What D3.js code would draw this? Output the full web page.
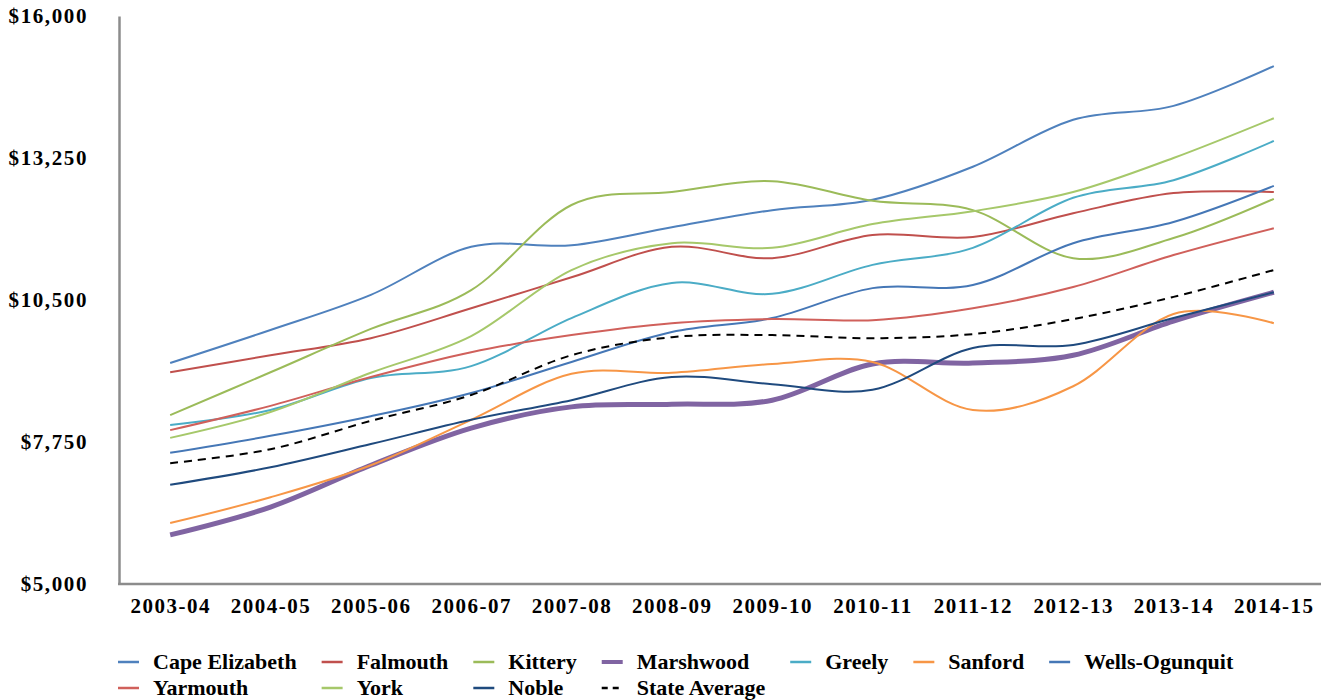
<!DOCTYPE html>
<html>
<head>
<meta charset="utf-8">
<script src="https://cdn.jsdelivr.net/npm/d3@7"></script>
<style>
  body { margin: 0; background: #fff; }
  text { font-family: "Liberation Serif", serif; font-weight: bold; fill: #000; }
</style>
</head>
<body>
<div id="chart"></div>
<script>
// school years on the x axis
var years = ['2003-04', '2004-05', '2005-06', '2006-07', '2007-08', '2008-09',
  '2009-10', '2010-11', '2011-12', '2012-13', '2013-14', '2014-15'];

// per pupil cost
var capeElizabeth = [9280, 9920, 10600, 11530, 11560, 11910, 12240, 12440, 13080, 13990, 14260, 15030];
var falmouth      = [9100, 9430, 9760, 10340, 10940, 11530, 11310, 11760, 11720, 12180, 12570, 12590];
var kittery       = [8270, 9100, 9940, 10690, 12340, 12590, 12800, 12420, 12240, 11310, 11700, 12460];
var marshwood     = [5950, 6490, 7300, 8020, 8430, 8480, 8560, 9260, 9280, 9430, 10090, 10650];
var greely        = [8080, 8370, 8990, 9220, 10150, 10830, 10620, 11180, 11510, 12480, 12820, 13580];
var sanford       = [6180, 6680, 7300, 8180, 9070, 9090, 9260, 9300, 8370, 8830, 10230, 10050];
var wellsOgunquit = [7540, 7870, 8250, 8700, 9300, 9880, 10150, 10730, 10790, 11600, 12010, 12710];
var yarmouth      = [7980, 8450, 9010, 9490, 9820, 10050, 10130, 10110, 10340, 10750, 11370, 11890];
var york          = [7830, 8330, 9090, 9800, 11080, 11600, 11510, 11970, 12220, 12590, 13250, 14020];
var noble         = [6920, 7260, 7710, 8180, 8560, 9010, 8870, 8760, 9570, 9630, 10150, 10650];
var stateAverage  = [7340, 7610, 8160, 8660, 9430, 9780, 9820, 9760, 9840, 10130, 10560, 11080];

var yTicks = [5000, 7750, 10500, 13250, 16000];

var series = [
  {name: 'Cape Elizabeth', values: capeElizabeth, color: '#4f81bd', width: 2},
  {name: 'Falmouth', values: falmouth, color: '#c0504d', width: 2},
  {name: 'Kittery', values: kittery, color: '#9bbb59', width: 2},
  {name: 'Marshwood', values: marshwood, color: '#8064a2', width: 5},
  {name: 'Greely', values: greely, color: '#4bacc6', width: 2},
  {name: 'Sanford', values: sanford, color: '#f79646', width: 2},
  {name: 'Wells-Ogunquit', values: wellsOgunquit, color: '#4577b6', width: 2},
  {name: 'Yarmouth', values: yarmouth, color: '#d0605b', width: 2},
  {name: 'York', values: york, color: '#a6c86a', width: 2},
  {name: 'Noble', values: noble, color: '#1f4a7e', width: 2},
  {name: 'State Average', values: stateAverage, color: '#000', width: 2, dash: '8,6'}
];

var width = 1321, height = 700;
var svg = d3.select('#chart').append('svg')
  .attr('width', width)
  .attr('height', height);

var x = d3.scalePoint()
  .domain(years)
  .range([120, 1324])
  .padding(0.5);

var y = d3.scaleLinear()
  .domain([5000, 16000])
  .range([584, 16]);

// y axis
var yAxis = svg.append('g')
  .attr('transform', 'translate(119,0)')
  .call(d3.axisLeft(y).tickValues(yTicks).tickSize(0).tickPadding(31)
    .tickFormat(function(d) { return '$' + d3.format(',')(d); }));
yAxis.select('.domain').attr('stroke', '#8c8c8c').attr('stroke-width', 2.5);
yAxis.selectAll('text')
  .style('font-size', '21px')
  .style('letter-spacing', '1.6px')
  .attr('fill', '#000');

// x axis
var xAxis = svg.append('g')
  .attr('transform', 'translate(0,584)')
  .call(d3.axisBottom(x).tickSize(0).tickPadding(14));
xAxis.select('.domain').attr('d', 'M118,0H1321').attr('stroke', '#8c8c8c').attr('stroke-width', 2.5);
xAxis.selectAll('text')
  .style('font-size', '21px')
  .style('letter-spacing', '1.5px')
  .attr('fill', '#000');

// smooth lines like excel does
var line = d3.line()
  .x(function(d, i) { return x(years[i]); })
  .y(function(d) { return y(d); })
  .curve(d3.curveCardinal.tension(0));

svg.append('g')
  .selectAll('path')
  .data(series)
  .enter()
  .append('path')
  .attr('d', function(d) { return line(d.values); })
  .attr('fill', 'none')
  .attr('stroke', function(d) { return d.color; })
  .attr('stroke-width', function(d) { return d.width; })
  .attr('stroke-dasharray', function(d) { return d.dash || null; });

// legend, two rows, columns as wide as their longest name
var perRow = 7;
var legend = svg.append('g');
var items = legend.selectAll('g')
  .data(series)
  .enter()
  .append('g');
items.append('line')
  .attr('x1', 0).attr('x2', 21)
  .attr('stroke', function(d) { return d.color; })
  .attr('stroke-width', function(d) { return d.width === 5 ? 4 : 2.5; })
  .attr('stroke-dasharray', function(d) { return d.dash ? '6,5' : null; });
items.append('text')
  .attr('x', 35)
  .attr('y', 7)
  .style('font-size', '22px')
  .text(function(d) { return d.name; });

var colW = [];
items.each(function(d, i) {
  var w = this.querySelector('text').getComputedTextLength();
  var c = i % perRow;
  colW[c] = Math.max(colW[c] || 0, w);
});
var colX = [118];
for (var c = 1; c < perRow; c++) colX[c] = colX[c - 1] + 35 + colW[c - 1] + 25;
items.attr('transform', function(d, i) {
  return 'translate(' + colX[i % perRow] + ',' + (662 + Math.floor(i / perRow) * 26) + ')';
});
</script>
</body>
</html>
